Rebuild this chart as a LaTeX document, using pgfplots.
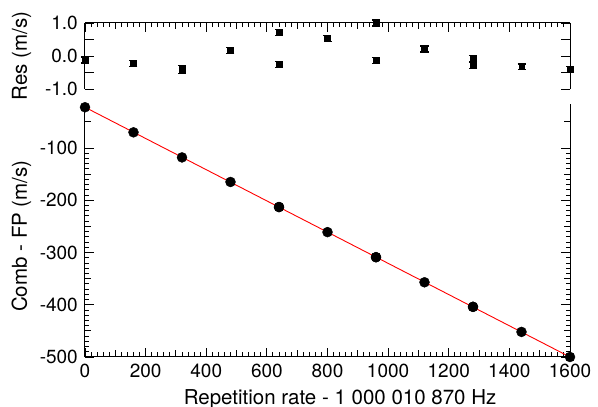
\documentclass[border=0pt]{standalone}
\usepackage{pgfplots}
\pgfplotsset{compat=1.18}
\usepackage{fontspec}
\setmainfont{TeX Gyre Heros}
\begin{document}
\begin{tikzpicture}
\useasboundingbox (-85pt,-50pt) rectangle (513pt,357pt);
\pgfplotsset{
  every axis/.append style={
    scale only axis, width=485pt, xmin=0, xmax=1600, clip=false,
    axis line style={line width=1pt},
    every tick/.style={black, line width=0.9pt},
    tick align=inside,
    major tick length=9pt, minor tick length=4.5pt,
    tick label style={font=\fontsize{19}{22}\selectfont, inner sep=0pt},
    yticklabel style={xshift=-7pt},
    xticklabel style={yshift=-7pt},
    /pgf/number format/assume math mode=true,
    label style={font=\fontsize{20.5}{24}\selectfont},
    xtick={0,200,400,600,800,1000,1200,1400,1600},
    minor x tick num=9,
    extra x ticks={100,300,500,700,900,1100,1300,1500},
    extra x tick labels={},
    extra x tick style={major tick length=6.5pt},
  }
}
% bottom panel
\begin{axis}[
  at={(0pt,0pt)}, anchor=south west,
  height=253.4pt, ymin=-500, ymax=-15,
  axis x line*=bottom,
  xticklabels={0,200,400,600,800,1000,1200,1400,1600},
  ytick={-500,-400,-300,-200,-100},
  yticklabels={-500,-400,-300,-200,-100},
  minor y tick num=9,
  extra y ticks={-450,-350,-250,-150,-50},
  extra y tick labels={},
  extra y tick style={major tick length=6.5pt},
  xlabel={Repetition rate - 1 000 010 870 Hz},
  xlabel style={at={(axis description cs:0.526,-0.1855)}, anchor=base},
  ylabel={Comb - FP (m/s)},
  ylabel style={at={(axis description cs:-0.1196,0.477)}, anchor=base},
]
\addplot[red, line width=0.9pt] coordinates {(0,-22) (1600,-500)};
\addplot[only marks, mark=*, mark size=5pt, black] coordinates {
(0,-22) (160,-70) (320,-118) (480,-165) (640,-213) (640,-213) (800,-261)
(960,-309) (960,-309) (1120,-357) (1280,-404) (1280,-404) (1440,-452) (1600,-500)};
\end{axis}
% top panel
\begin{axis}[
  at={(0pt,268pt)}, anchor=south west,
  height=66pt, ymin=-1, ymax=1,
  axis x line*=top,
  xticklabels={},
  ytick={-1,-0.5,0,0.5,1},
  yticklabels={-1.0,,0.0,,1.0},
  ylabel={Res (m/s)},
  ylabel style={at={(axis description cs:-0.1196,0.5)}, anchor=base},
]
\addplot[only marks, mark=square*, mark size=2.8pt, black,
  error bars/.cd, y dir=both, y explicit,
  error bar style={line width=1.2pt},
  error mark options={rotate=90, mark size=4pt, line width=1.2pt}]
coordinates {
(0,-0.12) +- (0,0.09)
(160,-0.22) +- (0,0.09)
(320,-0.40) +- (0,0.12)
(480,0.16) +- (0,0.09)
(640,0.72) +- (0,0.09)
(640,-0.25) +- (0,0.09)
(800,0.54) +- (0,0.09)
(960,1.0) +- (0,0.09)
(960,-0.13) +- (0,0.09)
(1120,0.21) +- (0,0.09)
(1280,-0.07) +- (0,0.09)
(1280,-0.29) +- (0,0.09)
(1440,-0.33) +- (0,0.09)
(1600,-0.40) +- (0,0.09)
};
\end{axis}
\end{tikzpicture}
\end{document}
